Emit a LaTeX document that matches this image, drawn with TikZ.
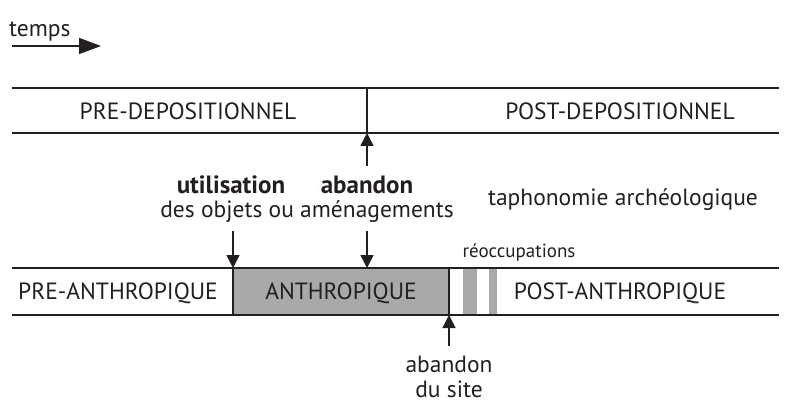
\documentclass[tikz,border=0pt]{standalone}
\usepackage{fontspec}
\setmainfont{PT Sans}
\usetikzlibrary{arrows.meta}
\definecolor{boxgray}{HTML}{A9A9A9}
\definecolor{ink}{HTML}{231F20}
\begin{document}
\begin{tikzpicture}[x=1pt,y=-1pt,
  band/.style={line width=1.9pt, draw=ink},
  divider/.style={line width=1.4pt, draw=ink},
  lbl/.style={font=\fontsize{23.5}{26}\selectfont, inner sep=0pt, text=ink},
  boldlbl/.style={font=\fontsize{25}{28}\selectfont\bfseries, inner sep=0pt, text=ink},
  small/.style={font=\fontsize{19}{21}\selectfont, inner sep=0pt, text=ink},
  arr/.style={-{Triangle[length=13pt,width=13pt]}, line width=1.5pt, draw=ink, fill=ink},
  bigarr/.style={-{Triangle[length=22pt,width=16pt]}, line width=1.6pt, draw=ink, fill=ink}]
\useasboundingbox (0,0) rectangle (791,403);
% time arrow
\node[lbl, anchor=west] (temps) at (9,32) {temps};
\coordinate (t0) at (12,46);
\coordinate (t1) at (101,46);
\draw[bigarr] (t0) -- (t1);
% top band
\draw[band] (12,88) -- (779,88);
\draw[band] (12,133) -- (779,133);
\coordinate (dtop) at (367,88);
\coordinate (dbot) at (367,133);
\draw[divider] (dtop) -- (dbot);
\node[lbl] (predep) at (188,111) {PRE-DEPOSITIONNEL};
\node[lbl] (postdep) at (620,111) {POST-DEPOSITIONNEL};
% middle texts
\node[boldlbl] (util) at (231,185) {utilisation};
\node[boldlbl] (aband) at (367,185) {abandon};
\node[lbl] (objets) at (307,212) {des objets ou aménagements};
\node[lbl] (taph) at (623,200) {taphonomie archéologique};
\coordinate (up1) at (367,166);
\draw[arr] (up1) -- (dbot);
% bottom band
\fill[boxgray] (233,268) rectangle (449,315);
\fill[boxgray] (463,268) rectangle (477,315);
\fill[boxgray] (489,268) rectangle (497,315);
\draw[band] (12,268) -- (779,268);
\draw[band] (12,315) -- (779,315);
\coordinate (gl) at (233,268);
\coordinate (glb) at (233,315);
\coordinate (gr) at (449,268);
\coordinate (grb) at (449,315);
\draw[divider] (gl) -- (glb);
\draw[divider] (gr) -- (grb);
\node[lbl] (preanth) at (118,293) {PRE-ANTHROPIQUE};
\node[lbl] (anth) at (341,293) {ANTHROPIQUE};
\node[lbl] (postanth) at (620,293) {POST-ANTHROPIQUE};
\node[small] (reocc) at (519,253) {réoccupations};
\coordinate (d1) at (233,231);
\coordinate (d2) at (367,231);
\coordinate (d2b) at (367,268);
\draw[arr] (d1) -- (gl);
\draw[arr] (d2) -- (d2b);
% abandon du site
\coordinate (up2) at (449,346);
\draw[arr] (up2) -- (grb);
\node[lbl] (abs1) at (449,364) {abandon};
\node[lbl] (abs2) at (449,389) {du site};
\end{tikzpicture}
\end{document}
